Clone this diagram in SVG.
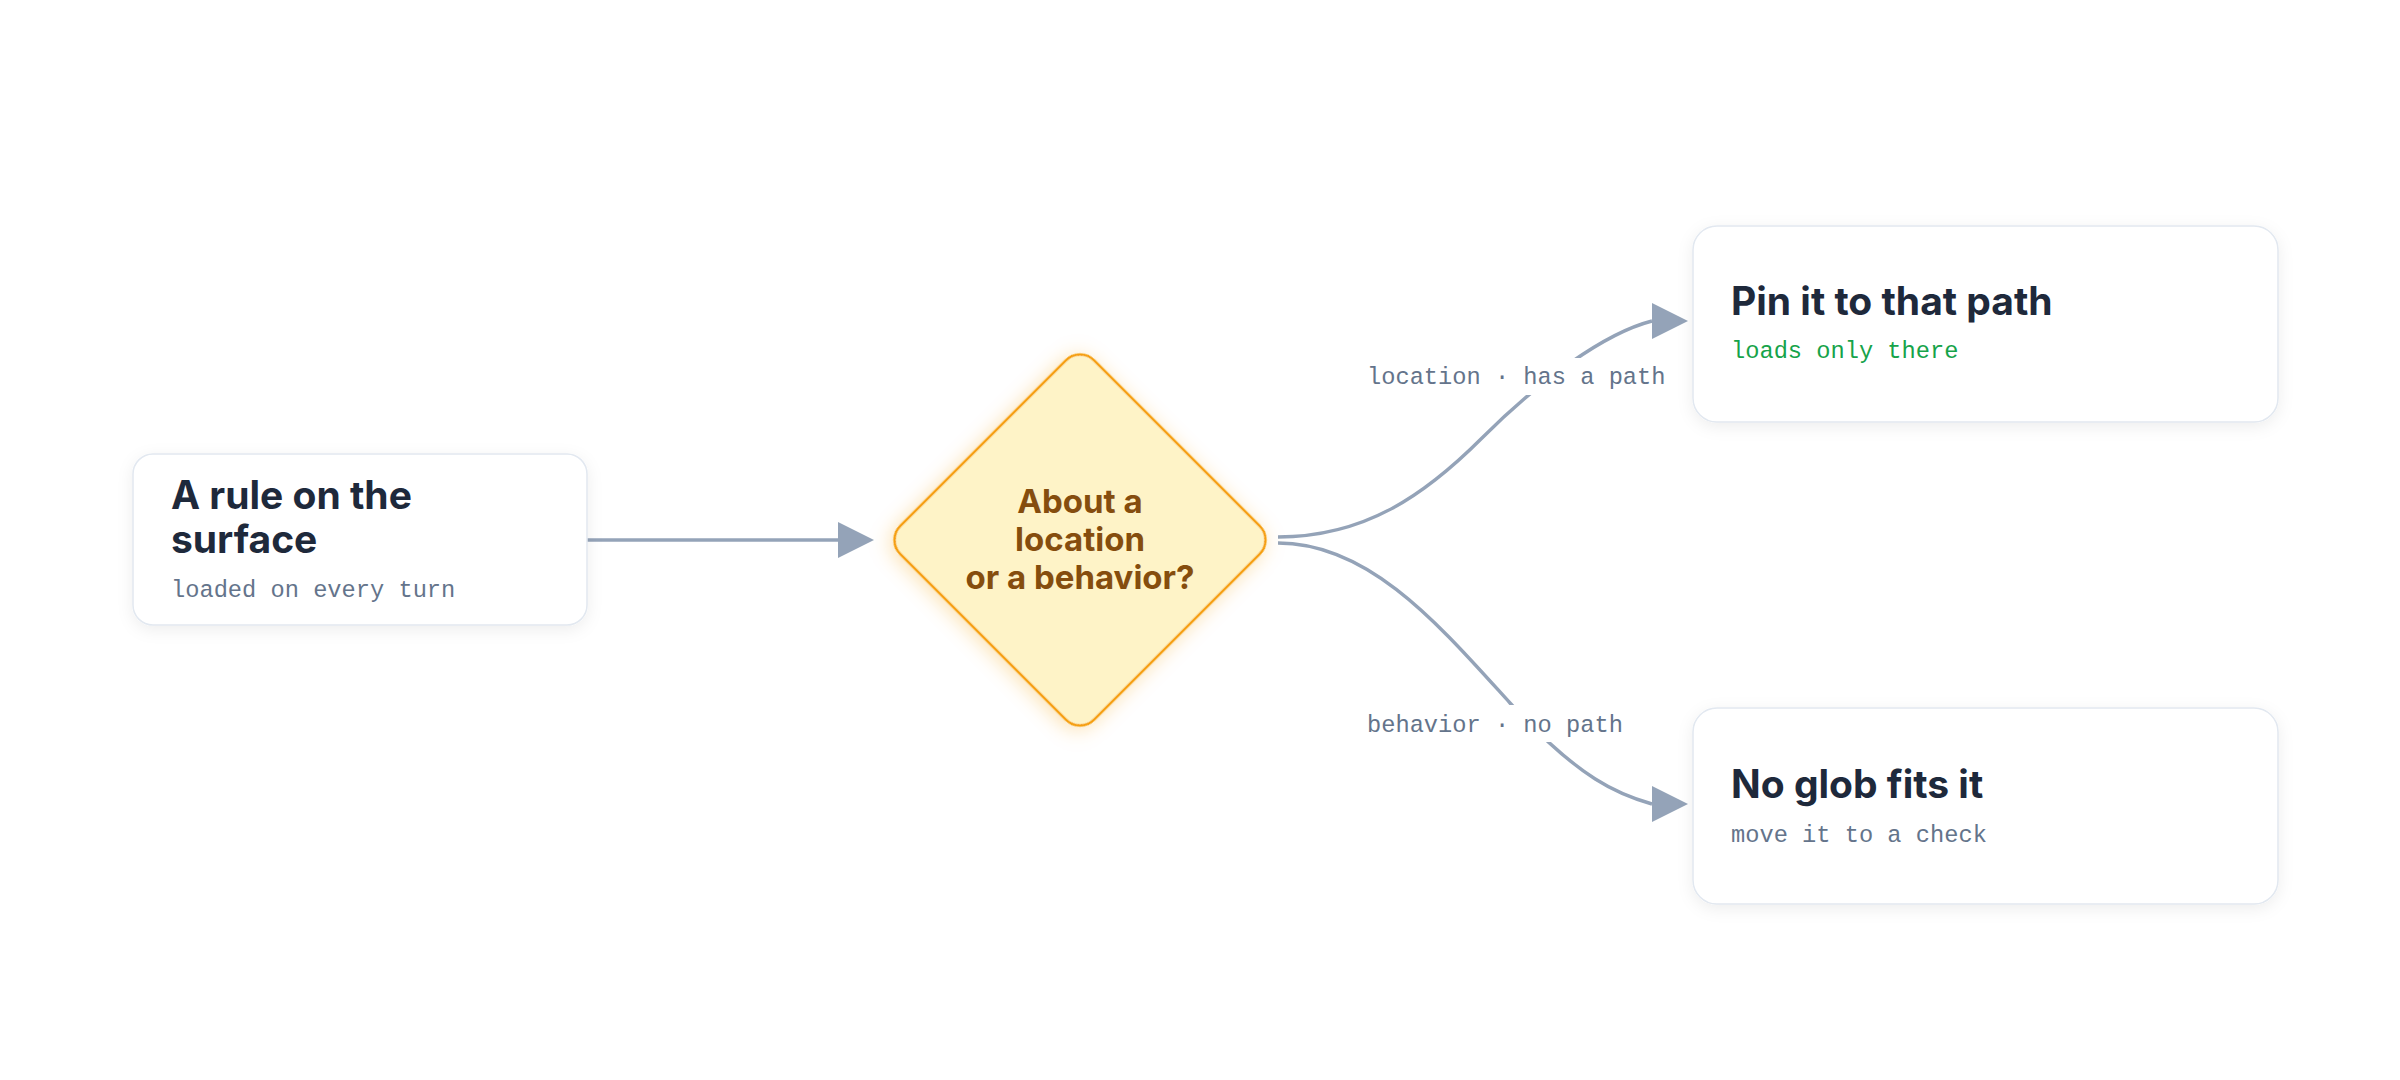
<svg xmlns="http://www.w3.org/2000/svg" width="2400" height="1080" viewBox="0 0 2400 1080">
<style>
.card{fill:#ffffff;stroke:#e2e8f0;stroke-width:1.5;filter:url(#shadow)}
.title{font-family:Inter,"Noto Sans","Liberation Sans",sans-serif;font-weight:700;font-size:39px;fill:#1e293b}
.sub{font-family:"Liberation Mono","DejaVu Sans Mono",monospace;font-size:23.7px;fill:#64748b}
.green{fill:#16a34a}
.dtext{font-family:Inter,"Noto Sans","Liberation Sans",sans-serif;font-weight:700;font-size:33px;fill:#854d0e;text-anchor:middle}
.edge{fill:none;stroke:#94a3b8;stroke-width:3.4}
.elabel{font-family:"Liberation Mono","DejaVu Sans Mono",monospace;font-size:23.7px;fill:#64748b}
</style>
<defs>
<filter id="shadow" x="-20%" y="-30%" width="140%" height="160%">
<feDropShadow dx="0" dy="4" stdDeviation="8" flood-color="#0f172a" flood-opacity="0.07"/>
</filter>
<filter id="glow" x="-30%" y="-30%" width="160%" height="160%">
<feDropShadow dx="0" dy="4" stdDeviation="10" flood-color="#f59e0b" flood-opacity="0.3"/>
</filter>
<marker id="arrow" markerUnits="userSpaceOnUse" markerWidth="37" markerHeight="37" refX="0" refY="18" orient="0">
<path d="M0,0 L36,18 L0,36 Z" fill="#94a3b8"/>
</marker>
</defs>
<rect width="2400" height="1080" fill="#ffffff"/>
<g id="connectors">
<path class="edge" d="M587,540 L838,540" marker-end="url(#arrow)"/>
<path class="edge" d="M1278,537 C1365,537 1425,495 1482,438 C1540,380 1605,333 1652,321" marker-end="url(#arrow)"/>
<path class="edge" d="M1278,543 C1370,543 1440,626 1510,703 C1580,780 1620,795 1652,804" marker-end="url(#arrow)"/>
<rect x="1360" y="358" width="314" height="37" fill="#ffffff"/>
<text class="elabel" x="1367" y="384">location · has a path</text>
<rect x="1360" y="705" width="272" height="37" fill="#ffffff"/>
<text class="elabel" x="1367" y="732">behavior · no path</text>
</g>
<g id="node-rule">
<rect class="card" x="133" y="454" width="454" height="171" rx="20"/>
<text class="title" x="171" y="509">A rule on the</text>
<text class="title" x="171" y="553">surface</text>
<text class="sub" x="171" y="597">loaded on every turn</text>
</g>
<g id="node-decision">
<rect x="-137" y="-137" width="274" height="274" rx="20" transform="translate(1080,540) rotate(45)" fill="#fef3c7" stroke="#f59e0b" stroke-width="2.5" filter="url(#glow)"/>
<text class="dtext" x="1080" y="513">About a</text>
<text class="dtext" x="1080" y="551">location</text>
<text class="dtext" x="1080" y="589">or a behavior?</text>
</g>
<g id="node-pin">
<rect class="card" x="1693" y="226" width="585" height="196" rx="24"/>
<text class="title" x="1731" y="315">Pin it to that path</text>
<text class="sub green" x="1731" y="358">loads only there</text>
</g>
<g id="node-noglob">
<rect class="card" x="1693" y="708" width="585" height="196" rx="24"/>
<text class="title" x="1731" y="798">No glob fits it</text>
<text class="sub" x="1731" y="842">move it to a check</text>
</g>
</svg>
